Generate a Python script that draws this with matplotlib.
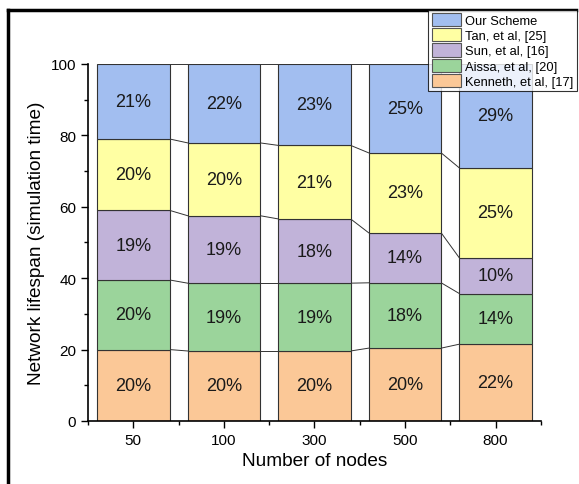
import matplotlib
matplotlib.use("Agg")
import matplotlib.pyplot as plt
import numpy as np
from matplotlib.lines import Line2D
from matplotlib.patches import Patch

plt.rcParams['font.family'] = ['Liberation Sans', 'DejaVu Sans']

categories = ["50", "100", "300", "500", "800"]
series_names = ["Kenneth, et al, [17]", "Aissa, et al, [20]", "Sun, et al, [16]",
                "Tan, et al, [25]", "Our Scheme"]
kenneth = [20.0, 19.6, 19.6, 20.4, 21.5]
aissa = [19.5, 19.0, 19.0, 18.3, 14.2]
sun = [19.5, 18.9, 18.0, 14.0, 10.0]
tan = [20.0, 20.4, 20.6, 22.4, 25.2]
ours = [21.0, 22.1, 22.8, 24.9, 29.1]
labels_kenneth = ["20%", "20%", "20%", "20%", "22%"]
labels_aissa = ["20%", "19%", "19%", "18%", "14%"]
labels_sun = ["19%", "19%", "18%", "14%", "10%"]
labels_tan = ["20%", "20%", "21%", "23%", "25%"]
labels_ours = ["21%", "22%", "23%", "25%", "29%"]

colors = ["#FBC897", "#9BD49B", "#C1B3D9", "#FFFFA3", "#A2BEF0"]

series = [kenneth, aissa, sun, tan, ours]
labels = [labels_kenneth, labels_aissa, labels_sun, labels_tan, labels_ours]

fig = plt.figure(figsize=(5.79, 4.85), dpi=100)
ax = fig.add_axes([0.152, 0.130, 0.782, 0.736])

x = np.arange(len(categories))
w = 0.8
bottom = np.zeros(len(categories))
for vals, col, name, labs in zip(series, colors, series_names, labels):
    vals = np.array(vals)
    ax.bar(x, vals, w, bottom=bottom, color=col, edgecolor="#333333", linewidth=0.8, label=name, zorder=2)
    for xi, b, v, lab in zip(x, bottom, vals, labs):
        ax.text(xi, b + v / 2, lab, ha="center", va="center", fontsize=13, color="#1a1a1a", zorder=3)
    top = bottom + vals
    for i in range(len(categories) - 1):
        ax.plot([x[i] + w / 2, x[i + 1] - w / 2], [top[i], top[i + 1]], color="#333333", lw=0.7, zorder=1)
    bottom = top

ax.set_xlim(-0.5, 4.5)
ax.set_ylim(0, 100)
ax.set_xticks(x)
ax.set_xticklabels(categories)
ax.set_xticks(np.arange(-0.5, 4.6, 1.0), minor=True)
ax.set_yticks(np.arange(0, 101, 20))
ax.set_yticks(np.arange(10, 100, 20), minor=True)
ax.tick_params(axis='both', which='major', direction='out', length=5, width=1, labelsize=11)
ax.tick_params(axis='both', which='minor', direction='out', length=3, width=1)
for s in ["top", "right"]:
    ax.spines[s].set_visible(False)
for s in ["left", "bottom"]:
    ax.spines[s].set_linewidth(1.2)
ax.set_xlabel("Number of nodes", fontsize=13.7)
ax.set_ylabel("Network lifespan (simulation time)", fontsize=13.7)

handles = [Patch(facecolor=c, edgecolor="#555555", linewidth=0.8) for c in colors[::-1]]
leg = fig.legend(handles, series_names[::-1], loc="upper right", bbox_to_anchor=(0.996, 0.978),
                 fontsize=9.3, frameon=True, fancybox=False, edgecolor="black",
                 handlelength=2.3, handleheight=1.2, handletextpad=0.3, labelspacing=0.1,
                 borderpad=0.25, borderaxespad=0.0)
leg.get_frame().set_linewidth(0.8)

fig.add_artist(Line2D([0.013, 0.013], [0.0, 0.978], transform=fig.transFigure, color="black", lw=2.5))
fig.add_artist(Line2D([0.013, 0.995], [0.978, 0.978], transform=fig.transFigure, color="black", lw=2.5))

fig.savefig("out.png", dpi=100)
